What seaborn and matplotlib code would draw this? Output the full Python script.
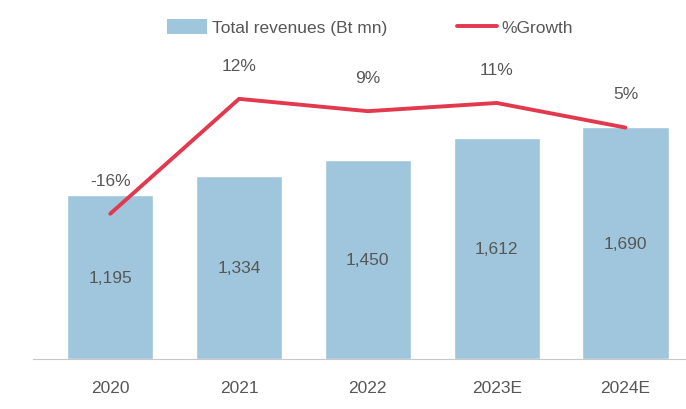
import matplotlib
matplotlib.use("Agg")
import matplotlib.pyplot as plt
import seaborn as sns
import pandas as pd
from matplotlib.patches import Patch
from matplotlib.lines import Line2D

years = ["2020", "2021", "2022", "2023E", "2024E"]
revenues = [1195, 1334, 1450, 1612, 1690]
growth = [-16, 12, 9, 11, 5]

df = pd.DataFrame({"year": years, "revenue": revenues, "growth": growth})

sns.set_theme(style="white")
plt.rcParams["font.family"] = ["Liberation Sans", "DejaVu Sans"]

bar_color = "#9fc6dc"
line_color = "#e2394f"
text_color = "#575757"
fs = 12.5

fig = plt.figure(figsize=(6.86, 4.10), dpi=100)
ax = fig.add_axes([33 / 686, 50 / 410, 653 / 686, 350 / 410])

sns.barplot(data=df, x="year", y="revenue", color=bar_color, width=0.67,
            saturation=1, ax=ax)
ax.set_xlim(-0.6, 4.47)
ax.set_ylim(0, 2555)
ax.set_xlabel("")
ax.set_ylabel("")
ax.set_yticks([])
for side in ["top", "right", "left"]:
    ax.spines[side].set_visible(False)
ax.spines["bottom"].set_color("#c8c8c8")
ax.spines["bottom"].set_linewidth(0.8)
ax.tick_params(axis="x", length=0, pad=15, labelsize=fs, labelcolor=text_color)

for i, v in enumerate(revenues):
    ax.text(i, v / 2, f"{v:,}", ha="center", va="center",
            fontsize=fs, color=text_color)

ax2 = ax.twinx()
sns.lineplot(x=list(range(len(years))), y=growth, color=line_color,
             linewidth=2.8, ax=ax2, legend=False)
ax2.set_ylim(-51.4, 33.9)
ax2.set_yticks([])
for side in ["top", "right", "left", "bottom"]:
    ax2.spines[side].set_visible(False)

for i, g in enumerate(growth):
    ax2.text(i, g + 8.2, f"{g}%", ha="center", va="center",
             fontsize=fs, color=text_color)

handles = [Patch(facecolor=bar_color, edgecolor="none"),
           Line2D([0], [0], color=line_color, linewidth=2.8)]
fig.legend(handles, ["Total revenues (Bt mn)", "%Growth"],
           loc="center", bbox_to_anchor=(370 / 686, 1 - 28 / 410), ncol=2,
           frameon=False, fontsize=fs, labelcolor=text_color,
           columnspacing=4.0, handlelength=2.3, handleheight=1.0,
           handletextpad=0.3)

fig.savefig("out.png", dpi=100)
